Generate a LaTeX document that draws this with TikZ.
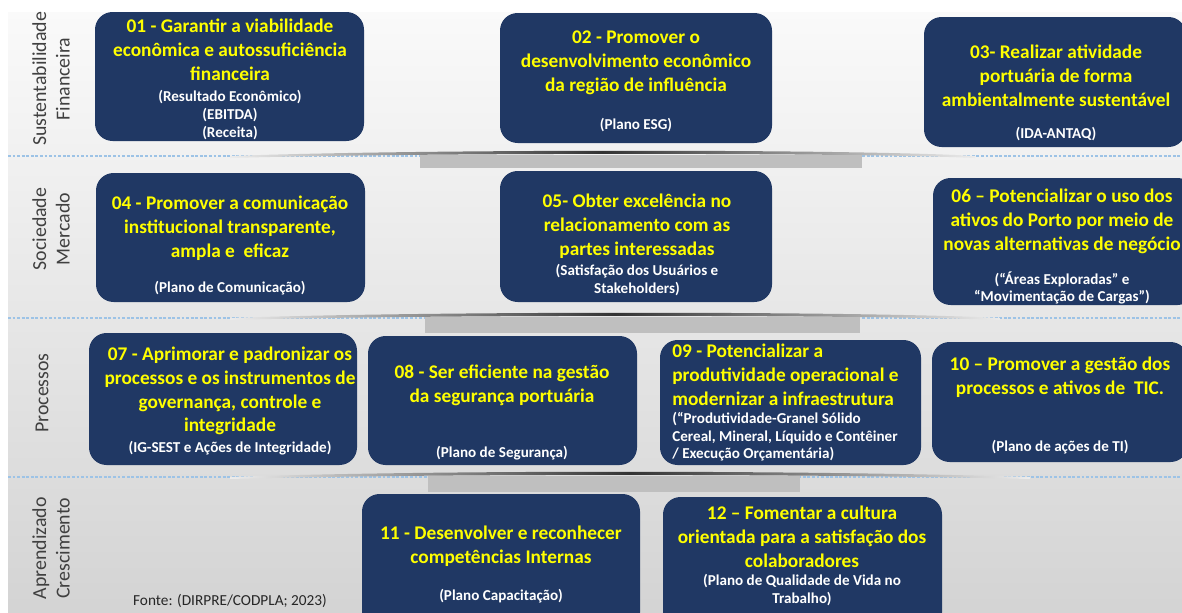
\documentclass[tikz,border=0pt]{standalone}
\usepackage{fontspec}
\setmainfont{Carlito}
\definecolor{navy}{RGB}{32,56,100}
\definecolor{goalyellow}{RGB}{255,255,0}
\definecolor{persgray}{RGB}{64,64,64}
\definecolor{dashblue}{RGB}{157,195,230}
\begin{document}
\begin{tikzpicture}[x=0.02cm,y=-0.02cm,
  box/.style={fill=navy,rounded corners=10pt},
  goal/.style={text=goalyellow,font=\fontsize{11}{13.6}\selectfont\bfseries,align=center,inner sep=0pt},
  kpi/.style={text=white,font=\fontsize{8.6}{10}\selectfont\bfseries,align=center,inner sep=0pt},
  persp/.style={rotate=90,text=persgray,font=\fontsize{11.3}{13.3}\selectfont,align=center,inner sep=0pt},
  sepline/.style={dashblue,line width=0.8pt,dash pattern=on 1.6pt off 1pt},
  arch/.style={left color=gray!15,right color=gray!15,middle color=gray!40!black},
  shelf/.style={fill=gray!100!black!50}]
\useasboundingbox (0,0) rectangle (1182,612);
\shade[top color=white!98!black,bottom color=white!83!black] (8,12) rectangle (1182,612);
\draw[sepline] (8,156) -- (1182,156);
\draw[sepline] (8,318) -- (1182,318);
\draw[sepline] (8,477) -- (1182,477);
\shade[arch] (230,156) .. controls (420,149) and (860,149) .. (975,156) -- (975,158) .. controls (860,152.5) and (420,152.5) .. (230,158) -- cycle;
\shade[arch] (230,318) .. controls (425,311) and (860,311) .. (1000,318) -- (1000,320) .. controls (860,314.5) and (425,314.5) .. (230,320) -- cycle;
\shade[arch] (230,477) .. controls (430,470) and (800,470) .. (1030,477) -- (1030,479) .. controls (800,473.5) and (430,473.5) .. (230,479) -- cycle;
\fill[shelf] (420,155) rectangle (862,168);
\fill[shelf] (425,317) rectangle (860,333);
\fill[shelf] (428,476) rectangle (800,492);
\fill[box] (95,12) rectangle (364,141);
\fill[box] (500,13) rectangle (772,143);
\fill[box] (924,17) rectangle (1186,147);
\fill[box] (96,173) rectangle (365,302);
\fill[box] (500,171) rectangle (772,302);
\fill[box] (933,178) rectangle (1195,305);
\fill[box] (89,333) rectangle (357,465);
\fill[box] (368,336) rectangle (637,465);
\fill[box] (660,340) rectangle (921,465);
\fill[box] (932,342) rectangle (1188,462);
\fill[box] (362,494) rectangle (640,630);
\fill[box] (663,497) rectangle (942,630);
\node[persp] (finan) at (51,79) {Sustentabilidade\\Financeira};
\node[persp] (socie) at (51,229) {Sociedade\\Mercado};
\node[persp] (proce) at (42,393) {Processos};
\node[persp,anchor=east] (apren) at (51,497) {Aprendizado\\Crescimento};
\node[goal] (g01) at (230,50) {01 - Garantir a viabilidade\\econômica e autossuficiência\\financeira};
\node[kpi] (k01) at (230,115) {(Resultado Econômico)\\(EBITDA)\\(Receita)};
\node[goal] (g02) at (636,63) {02 - Promover o\\desenvolvimento econômico\\da região de influência};
\node[kpi] (k02) at (636,125) {(Plano ESG)};
\node[goal] (g03) at (1056,76) {03- Realizar atividade\\portuária de forma\\ambientalmente sustentável};
\node[kpi] (k03) at (1056,134) {(IDA-ANTAQ)};
\node[goal] (g04) at (230,228) {04 - Promover a comunicação\\institucional transparente,\\ampla e\ \ eficaz};
\node[kpi] (k04) at (230,288) {(Plano de Comunicação)};
\node[goal] (g05) at (637,226) {05- Obter excelência no\\relacionamento com as\\partes interessadas};
\node[kpi] (k05) at (637,280) {(Satisfação dos Usuários e\\Stakeholders)};
\node[goal] (g06) at (1062,221) {06 – Potencializar o uso dos\\ativos do Porto por meio de\\novas alternativas de negócio};
\node[kpi] (k06) at (1062,288) {(“Áreas Exploradas” e\\“Movimentação de Cargas”)};
\node[goal] (g07) at (230,391) {07 - Aprimorar e padronizar os\\processos e os instrumentos de\\governança, controle e\\integridade};
\node[kpi] (k07) at (230,448) {(IG-SEST e Ações de Integridade)};
\node[goal] (g08) at (502,385) {08 - Ser eficiente na gestão\\da segurança portuária};
\node[kpi] (k08) at (502,453) {(Plano de Segurança)};
\node[goal,align=left,anchor=west] (g09) at (672,375) {09 - Potencializar a\\produtividade operacional e\\modernizar a infraestrutura};
\node[kpi,align=left,anchor=west] (k09) at (672,437) {(“Produtividade-Granel Sólido\\Cereal, Mineral, Líquido e Contêiner\\/ Execução Orçamentária)};
\node[goal] (g10) at (1060,377) {10 – Promover a gestão dos\\processos e ativos de\ \ TIC.};
\node[kpi] (k10) at (1060,447) {(Plano de ações de TI)};
\node[goal] (g11) at (501,546) {11 - Desenvolver e reconhecer\\competências Internas};
\node[kpi] (k11) at (501,596) {(Plano Capacitação)};
\node[goal] (g12) at (802,537) {12 – Fomentar a cultura\\orientada para a satisfação dos\\colaboradores};
\node[kpi] (k12) at (802,590) {(Plano de Qualidade de Vida no\\Trabalho)};
\node[text=black!85,font=\fontsize{8.7}{10}\selectfont,inner sep=0pt] (fonte) at (230,601) {Fonte: (DIRPRE/CODPLA; 2023)};
\end{tikzpicture}
\end{document}
